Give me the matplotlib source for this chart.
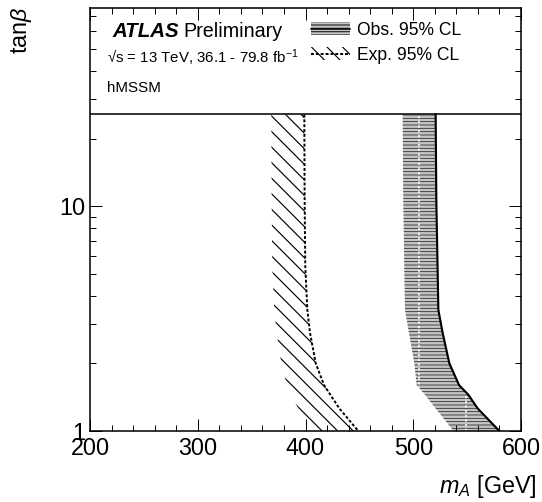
import matplotlib.pyplot as plt
import numpy as np
from matplotlib.patches import Patch, Polygon
from matplotlib.lines import Line2D
from matplotlib.ticker import MultipleLocator, FixedLocator, FixedFormatter, NullFormatter

plt.rcParams['font.family'] = ['Liberation Sans', 'DejaVu Sans']
plt.rcParams['mathtext.fontset'] = 'custom'
plt.rcParams['mathtext.rm'] = 'Liberation Sans'
plt.rcParams['mathtext.it'] = 'Liberation Sans:italic'
plt.rcParams['mathtext.bf'] = 'Liberation Sans:bold'
plt.rcParams['hatch.linewidth'] = 0.4

# observed 95% CL limit (solid)
obs_tanb = [25.6, 10.7, 3.46, 2.73, 2.0, 1.60, 1.45, 1.26, 1.0]
obs_ma = [520.8, 521.4, 523.3, 527.3, 533.5, 542.5, 551.1, 559.8, 579.9]
# expected 95% CL limit (dashed)
exp_tanb = [25.6, 10.7, 5.40, 3.46, 2.73, 2.0, 1.60, 1.26, 1.0]
exp_ma = [398.9, 399.2, 399.8, 401.7, 404.2, 409.5, 417.2, 431.4, 449.0]

xticks = [200, 300, 400, 500, 600]
yticks = [1, 10]
ytick_labels = ['1', '10']
ymax = 76
legend_top = 25.8
tile_x = [505.6, 549.0]

dpi = 140
fig = plt.figure(figsize=(542 / dpi, 502 / dpi), dpi=dpi)
ax = fig.add_axes([90 / 542, 71 / 502, 431 / 542, 422.7 / 502])
ax.set_yscale('log')
ax.set_xlim(200, 600)
ax.set_ylim(1, ymax)


def band_edge(ma, tb, w=33):
    # left edge of a band of fixed pixel width next to the limit line
    pts = ax.transData.transform(np.column_stack([ma, tb]))
    x, y = pts[:, 0], pts[:, 1]
    s = np.gradient(x, y)
    left = x - w * np.sqrt(1 + s ** 2)
    return ax.transData.inverted().transform(np.column_stack([left, y]))[:, 0]


obs_face = '#c4c4c4'
obs_hatch = '#262626'
diag = '\\\\\\'

# observed band
edge = band_edge(obs_ma, obs_tanb)
verts = np.column_stack([np.r_[edge, obs_ma[::-1]], np.r_[obs_tanb, obs_tanb[::-1]]])
obs_band = Polygon(verts, closed=True, facecolor=obs_face, edgecolor=obs_hatch,
                   hatch='-------', linewidth=0)
ax.add_patch(obs_band)
for xv in tile_x:
    l = ax.axvline(xv, color='white', ls=(0, (1.5, 1.5)), lw=0.8)
    l.set_clip_path(obs_band)
ax.plot(obs_ma, obs_tanb, color='k', lw=1.1)
obs_h = (Patch(facecolor=obs_face, edgecolor=obs_hatch, hatch='-------', lw=0),
         Line2D([], [], color='k', lw=0.8))

# expected band
plt.rcParams['hatch.linewidth'] = 0.6
edge = band_edge(exp_ma, exp_tanb)
verts = np.column_stack([np.r_[edge, exp_ma[::-1]], np.r_[exp_tanb, exp_tanb[::-1]]])
ax.add_patch(Polygon(verts, closed=True, facecolor='none', edgecolor='k',
                     hatch=diag, linewidth=0))
ax.plot(exp_ma, exp_tanb, color='k', lw=1.0, ls=(0, (1.5, 1.0)))
exp_h = (Patch(facecolor='none', edgecolor='k', hatch=diag, lw=0),
         Line2D([], [], color='k', lw=1.0, ls=(0, (1.5, 1.0))))

ax.axhline(legend_top, color='k', lw=0.8)

# axes style
ax.xaxis.set_major_locator(FixedLocator(xticks))
ax.xaxis.set_minor_locator(MultipleLocator(20))
ax.yaxis.set_major_locator(FixedLocator(yticks))
ax.yaxis.set_major_formatter(FixedFormatter(ytick_labels))
ax.yaxis.set_minor_locator(FixedLocator([2, 3, 4, 5, 6, 7, 8, 9, 20, 30, 40, 50, 60, 70]))
ax.yaxis.set_minor_formatter(NullFormatter())
ax.tick_params(which='both', direction='in', top=True, right=True, width=0.5, labelsize=12)
ax.tick_params(which='major', length=6.2)
ax.tick_params(which='minor', length=3.1)
ax.tick_params(axis='x', pad=3)
ax.tick_params(axis='y', pad=2.6)
for sp in ax.spines.values():
    sp.set_linewidth(0.8)

fig.text(537 / 542, 1 - 493 / 502, r'$m_A$ [GeV]', ha='right', va='baseline', size=12)
fig.text(21 / 542, 1 - 7 / 502, r'tan$\beta$', rotation=90, ha='center', va='top', size=12)

fig.text(112.7 / 542, 1 - 36.7 / 502, 'ATLAS', weight='bold', style='italic', size=10.5, va='baseline')
fig.text(183.3 / 542, 1 - 36.7 / 502, 'Preliminary', size=10.2, va='baseline')
fig.text(107 / 542, 1 - 63 / 502, r'√s = 13 TeV, 36.1 - 79.8 fb$^{-1}$', size=7.7, va='baseline')
fig.text(107 / 542, 1 - 92 / 502, 'hMSSM', size=7.8, va='baseline')

fig.legend([obs_h, exp_h], ['Obs. 95% CL', 'Exp. 95% CL'], loc='upper left',
           bbox_to_anchor=(311 / 542, 1 - 22 / 502), bbox_transform=fig.transFigure,
           frameon=False, fontsize=9, handlelength=2.2, handleheight=0.75,
           handletextpad=0.44, labelspacing=0.45, borderpad=0, borderaxespad=0)

fig.savefig('out.png', dpi=dpi)
